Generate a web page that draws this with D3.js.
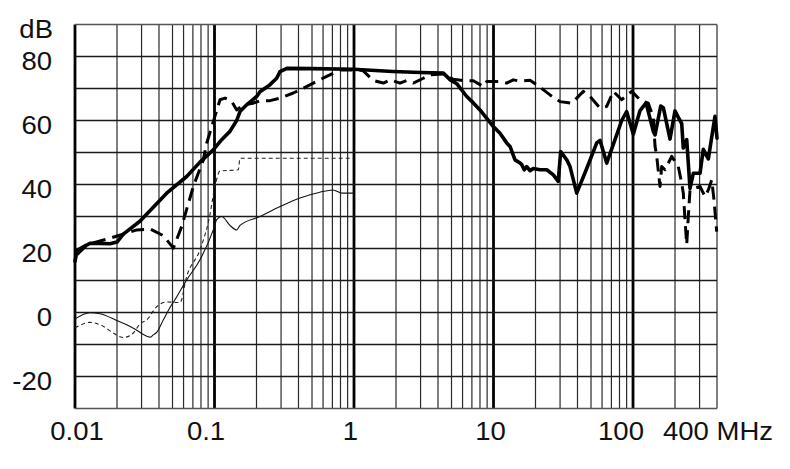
<!DOCTYPE html>
<html>
<head>
<meta charset="utf-8">
<script src="https://cdn.jsdelivr.net/npm/d3@7/dist/d3.min.js"></script>
<style>
  html, body { margin: 0; padding: 0; background: #fff; }
  svg { display: block; }
  text { font-family: "Liberation Sans", Arial, sans-serif; fill: #111; }
</style>
</head>
<body>
<svg id="chart" width="790" height="469"></svg>
<script>
// ---------- DATA ----------
const xDomain = [0.01, 400];
const yDomain = [-30, 90];
const yGridStep = 10;
const xTickValues = [0.01, 0.1, 1, 10, 100, 400];
const xTickLabels = ["0.01", "0.1", "1", "10", "100", "400 MHz"];
const yTickValues = [80, 60, 40, 20, 0, -20];
const yUnit = "dB";

// thick solid curve [MHz, dB]
const thickSolid = [
  [0.01,16],[0.0102,18],[0.0121,21],[0.0128,21.6],[0.015,21.6],[0.0178,21.5],[0.020,22],
  [0.0222,24.5],[0.0292,28.5],[0.0454,37.3],[0.0632,42.5],[0.0787,47],[0.098,50.8],
  [0.1126,54],[0.129,56.6],[0.1442,60],[0.1523,62.8],[0.170,64.9],[0.2007,67.5],[0.212,69],
  [0.25,71.2],[0.279,73.2],[0.295,75.3],[0.33,76.3],[0.5,76.2],[0.99,76],[1.9,75.3],
  [3.0,75],[4.37,74.8],[4.9,72.7],[5.45,71.5],[6.43,67.5],[7.17,65.5],[8.0,63.3],
  [9.97,58.1],[11.13,56],[12.43,53],[13.13,51.9],[14.26,47.7],[15.5,46.7],[15.93,46.2],
  [16.6,44.6],[17.3,45.6],[18.3,44.3],[19.29,45],[21.54,44.6],[24.06,44.6],[26.84,43],
  [29.1,41],[30.3,50.3],[33.5,47.7],[35.35,45.6],[39.48,37.3],[46.58,45],[54.94,53],
  [58,53.8],[64.78,46.7],[74.3,54],[83,60],[90,62.8],[100.5,55.7],[112,63],[124,65.5],
  [139.8,56.6],[143.8,55.5],[158,64.5],[164.9,64],[184.2,54.2],[200,63],[211.2,61],
  [223.4,59],[229.4,51.4],[242.6,54],[256.2,38.8],[270.6,43.5],[302.2,43.5],[319.1,51],
  [346.6,48],[387,61.3],[400,54.5]
];

// thick dashed curve [MHz, dB]
const thickDashed = [
  [0.01,19.1],[0.0121,21.2],[0.0178,23.2],[0.0277,25.8],[0.0345,26.1],[0.043,24],
  [0.0507,20.1],[0.0582,26.9],[0.0705,39.4],[0.0831,47.7],[0.0879,52.9],[0.1095,66.5],
  [0.119,67],[0.1328,66],[0.1442,63.3],[0.1609,64.9],[0.1897,65.4],[0.212,66.2],[0.25,66.2],
  [0.295,67],[0.367,68.6],[0.433,70.1],[0.511,71.7],[0.637,73.8],[0.8,75.8],[1.1,75.8],
  [1.166,75.5],[1.375,72.5],[1.622,71.7],[1.812,72.7],[2.137,71.7],[2.387,72.5],[2.662,71.7],
  [3.14,73.2],[3.5,74.3],[4.37,74.5],[5.15,72.9],[6.075,72.5],[7.166,72.4],[8.454,70.6],
  [8.94,72.2],[11.13,72.2],[12.43,71.7],[13.87,72.7],[15.49,72.3],[18.27,72.6],[21.54,70.4],
  [25.41,68],[29.97,65.9],[36.36,65.4],[44.04,69.1],[49.19,67.5],[57.99,63.9],[64.78,64.4],
  [72.24,69.1],[82.98,66.5],[97.89,69.1],[112.2,66.5],[118,66],[128.7,65.4],[139.8,61],
  [143.8,52],[147.9,48.8],[156.1,39.4],[160.6,45.6],[169.6,44.6],[189.4,48.8],[211.2,45.6],
  [223.4,40.4],[229.4,37.3],[235.9,29],[242.6,21.2],[249.1,30],[256.2,38.3],[302.2,39.4],
  [328.2,36.2],[346.6,38.3],[366.6,41.4],[380.7,35.2],[398,25.3]
];

// thin dashed curve [MHz, dB]
const thinDashed = [
  [0.01,-4.8],[0.0128,-3.1],[0.0151,-3.8],[0.0188,-6.4],[0.021,-7.6],[0.0222,-7.8],
  [0.0262,-6.4],[0.0292,-3.6],[0.0327,-2.3],[0.0385,1.8],[0.0454,3.3],[0.0566,3.1],
  [0.0632,11.3],[0.0787,19.6],[0.0922,30],[0.1008,39.4],[0.1095,44.2],[0.148,44.6],
  [0.1523,48.2],[0.99,48.2]
];

// thin solid curve [MHz, dB]
const thinSolid = [
  [0.01,-2],[0.0128,-0.1],[0.0151,-0.4],[0.0199,-2.5],[0.0262,-4.9],[0.0327,-7.4],
  [0.0345,-7.7],[0.0364,-7],[0.0385,-6.2],[0.043,-2.3],[0.0493,2.4],[0.0507,3.2],
  [0.0632,10.2],[0.0787,16.5],[0.098,25.8],[0.1037,29],[0.1126,30],[0.1292,27.2],
  [0.1442,25.8],[0.1523,27.2],[0.212,30],[0.295,33.1],[0.41,35.8],[0.57,37.6],
  [0.707,38.3],[0.82,37.3],[0.99,37.3]
];

// ---------- DRAW ----------
const svg = d3.select("#chart");
const x = d3.scaleLog().domain(xDomain).range([75, 717]);
const y = d3.scaleLinear().domain(yDomain).range([408.5, 24.5]);

const grid = svg.append("g");

// vertical grid lines: every k*10^n
const minorVals = [];
for (let e = -2; e <= 2; e++) {
  for (let k = 1; k <= 9; k++) {
    const v = k * Math.pow(10, e);
    if (v >= xDomain[0] - 1e-9 && v <= xDomain[1] + 1e-9) minorVals.push(v);
  }
}
grid.selectAll("line.v").data(minorVals).enter().append("line")
  .attr("x1", d => x(d)).attr("x2", d => x(d))
  .attr("y1", y(yDomain[0])).attr("y2", y(yDomain[1]))
  .attr("stroke", d => {
    const l = Math.log10(d);
    return Math.abs(l - Math.round(l)) < 1e-9 ? "#000" : "#2a2a2a";
  })
  .attr("stroke-width", d => {
    const l = Math.log10(d);
    return Math.abs(l - Math.round(l)) < 1e-9 ? 2.8 : 1.2;
  });

// horizontal grid lines
const hVals = d3.range(yDomain[0], yDomain[1] + 0.001, yGridStep);
grid.selectAll("line.h").data(hVals).enter().append("line")
  .attr("x1", x(xDomain[0])).attr("x2", x(xDomain[1]))
  .attr("y1", d => y(d)).attr("y2", d => y(d))
  .attr("stroke", d => (d === yDomain[0] || d === yDomain[1]) ? "#555" : "#1a1a1a")
  .attr("stroke-width", 1.3);

// curves
const line = d3.line().x(d => x(d[0])).y(d => y(d[1]));
const smooth = d3.line().x(d => x(d[0])).y(d => y(d[1])).curve(d3.curveMonotoneX);

svg.append("path").datum(thinSolid).attr("d", smooth)
  .attr("fill", "none").attr("stroke", "#111").attr("stroke-width", 1.1);
svg.append("path").datum(thinDashed).attr("d", smooth)
  .attr("fill", "none").attr("stroke", "#222").attr("stroke-width", 1.1)
  .attr("stroke-dasharray", "4,3");
svg.append("path").datum(thickDashed).attr("d", line)
  .attr("fill", "none").attr("stroke", "#000").attr("stroke-width", 3)
  .attr("stroke-linejoin", "round").attr("stroke-dasharray", "13,7");
svg.append("path").datum(thickSolid).attr("d", line)
  .attr("fill", "none").attr("stroke", "#000").attr("stroke-width", 3.6)
  .attr("stroke-linejoin", "round").attr("stroke-linecap", "round");

// labels
const stretch = "scale(1.1,1)";
const fs = 25;
svg.selectAll("text.y").data(yTickValues).enter().append("text")
  .attr("transform", d => `translate(52,${y(d) + 13}) ${stretch}`)
  .attr("text-anchor", "end").attr("font-size", fs)
  .text(d => d);
svg.append("text")
  .attr("transform", `translate(53,38) ${stretch}`)
  .attr("text-anchor", "end").attr("font-size", fs)
  .text(yUnit);

const xLabelShift = [2, -8.5, -3.5, -3, -12];
svg.selectAll("text.x").data(xTickValues).enter().append("text")
  .attr("transform", (d, i) => {
    if (i === xTickValues.length - 1) return `translate(663,440) ${stretch}`;
    return `translate(${x(d) + xLabelShift[i]},440) ${stretch}`;
  })
  .attr("text-anchor", (d, i) => i === xTickValues.length - 1 ? "start" : "middle")
  .attr("font-size", fs)
  .text((d, i) => xTickLabels[i]);
</script>
</body>
</html>
